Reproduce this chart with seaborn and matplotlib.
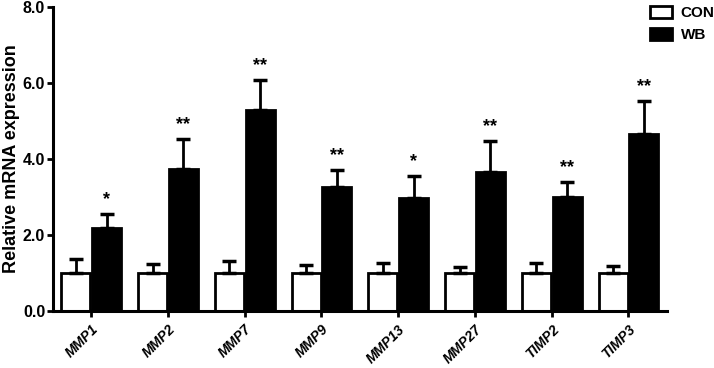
import pandas as pd
import seaborn as sns
import matplotlib.pyplot as plt
from matplotlib.ticker import FormatStrFormatter

# Values
genes = ["MMP1", "MMP2", "MMP7", "MMP9", "MMP13", "MMP27", "TIMP2", "TIMP3"]
con_mean = [1.0, 1.0, 1.0, 1.0, 1.0, 1.0, 1.0, 1.0]
con_err = [0.38, 0.24, 0.31, 0.22, 0.27, 0.17, 0.27, 0.19]
wb_mean = [2.19, 3.73, 5.30, 3.26, 2.97, 3.66, 2.99, 4.66]
wb_err = [0.37, 0.79, 0.77, 0.45, 0.59, 0.80, 0.40, 0.86]
stars = ["*", "**", "**", "**", "*", "**", "**", "**"]

df = pd.DataFrame({
    "gene": genes * 2,
    "group": ["CON"] * len(genes) + ["WB"] * len(genes),
    "value": con_mean + wb_mean,
})

sns.set_style("ticks")
plt.rcParams['font.family'] = ['Liberation Sans', 'DejaVu Sans']
plt.rcParams['font.weight'] = 'bold'
for key in ['text.color', 'axes.labelcolor', 'xtick.color', 'ytick.color',
            'axes.edgecolor']:
    plt.rcParams[key] = 'black'

fig = plt.figure(figsize=(7.14, 3.68), dpi=100)
ax = fig.add_axes([0.074, 0.155, 0.86, 0.826])

sns.barplot(data=df, x="gene", y="value", hue="group", order=genes,
            palette={"CON": "white", "WB": "black"}, edgecolor="black",
            linewidth=2, width=0.8, gap=0.06, errorbar=None, ax=ax)

# One-sided error bars and significance stars on top of the bars
for cont, errs, is_wb in zip(ax.containers, [con_err, wb_err], [False, True]):
    for i, (bar, e) in enumerate(zip(cont, errs)):
        x = bar.get_x() + bar.get_width() / 2
        top = bar.get_height()
        ax.errorbar(x, top, yerr=[[0], [e]], fmt="none", ecolor="black",
                    elinewidth=2, capsize=5, capthick=2.5, zorder=1)
        if is_wb:
            ax.text(x, top + e + 0.16, stars[i], ha="center", va="bottom",
                    fontsize=13, fontweight="bold")

ax.set_ylim(0, 8)
ax.set_xlim(-0.5, 7.5)
ax.set_yticks([0, 2, 4, 6, 8])
ax.yaxis.set_major_formatter(FormatStrFormatter('%.1f'))
ax.set_xlabel("")
ax.set_ylabel("Relative mRNA expression", fontsize=13, fontweight="bold",
              labelpad=2)
ax.tick_params(axis="both", width=2, length=4.5, direction="out",
               colors="black")
ax.tick_params(axis="y", labelsize=11.5, pad=1)
ax.tick_params(axis="x", labelsize=10)
for lab in ax.get_xticklabels():
    lab.set_rotation(45)
    lab.set_ha("right")
    lab.set_rotation_mode("anchor")
    lab.set_fontweight("bold")
    lab.set_fontstyle("italic")
for lab in ax.get_yticklabels():
    lab.set_fontweight("bold")

for side in ["top", "right"]:
    ax.spines[side].set_visible(False)
ax.spines["left"].set_linewidth(2.2)
ax.spines["bottom"].set_linewidth(2.2)

ax.legend(title=None, frameon=False, loc="upper left",
          bbox_to_anchor=(0.902, 1.0), bbox_transform=fig.transFigure,
          prop={"weight": "bold", "size": 11}, handlelength=1.4,
          handleheight=0.8, handletextpad=0.6, labelspacing=0.5,
          borderaxespad=0, labelcolor="black")

plt.savefig("out.png", dpi=100)
